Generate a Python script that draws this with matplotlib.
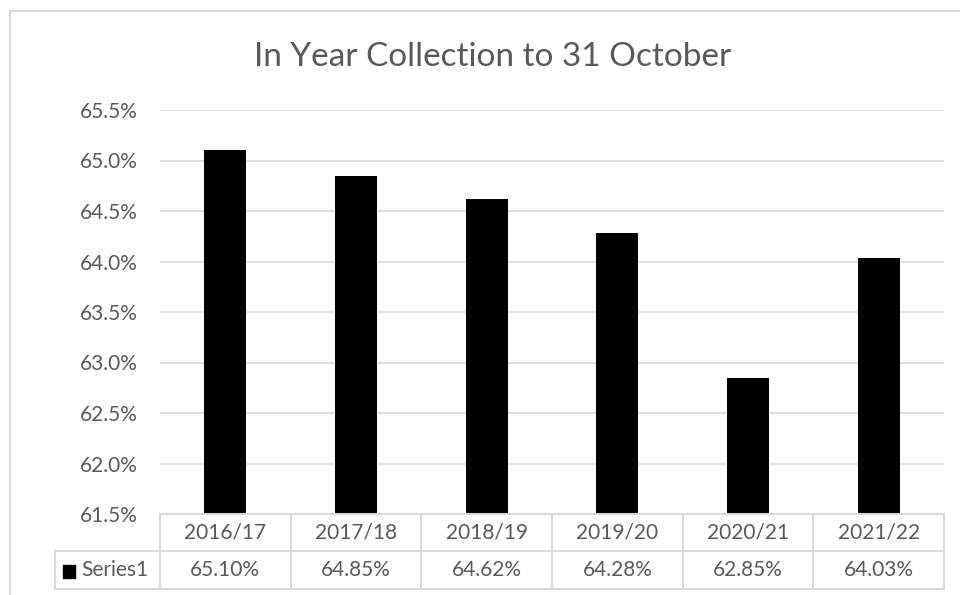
import matplotlib.pyplot as plt
from matplotlib.lines import Line2D
from matplotlib.patches import Rectangle

years = ['2016/17', '2017/18', '2018/19', '2019/20', '2020/21', '2021/22']
collection = [65.10, 64.85, 64.62, 64.28, 62.85, 64.03]
series_name = 'Series1'
y_ticks = [61.5, 62.0, 62.5, 63.0, 63.5, 64.0, 64.5, 65.0, 65.5]

W, H = 960, 595
grey_line = '#d9d9d9'
grey_text = '#595959'
plt.rcParams['font.family'] = ['Lato', 'DejaVu Sans']

fig = plt.figure(figsize=(W / 100, H / 100), dpi=100)

def fx(px):
    return px / W

def fy(py):
    return 1 - py / H

# plot area in pixel coords
left, right, top, bottom = 160, 944, 110, 514
ax = fig.add_axes([fx(left), fy(bottom), fx(right - left), fy(top) - fy(bottom)])
x = list(range(len(years)))
ax.bar(x, collection, width=0.32, color='black', zorder=3)
ax.set_xlim(-0.5, len(years) - 0.5)
ax.set_ylim(y_ticks[0], y_ticks[-1])
ax.set_yticks(y_ticks)
ax.set_yticklabels([f'{v:.1f}%' for v in y_ticks], color=grey_text, fontsize=15)
ax.tick_params(axis='y', length=0, pad=16)
ax.set_xticks([])
ax.grid(axis='y', color=grey_line, linewidth=1.2, zorder=0)
for s in ax.spines.values():
    s.set_visible(False)

fig.text(fx(493), fy(57), 'In Year Collection to 31 October', ha='center', va='center',
         fontsize=24, color=grey_text)

# outer chart border (top and left visible)
fig.add_artist(Line2D([fx(10), fx(960)], [fy(11), fy(11)], color=grey_line, lw=1.5))
fig.add_artist(Line2D([fx(10), fx(10)], [fy(11), fy(595)], color=grey_line, lw=1.5))

# data table
row1, row2, row3 = 514, 551, 589
tleft = 55
cw = (right - left) / len(years)

def hline(x0, x1, y):
    fig.add_artist(Line2D([fx(x0), fx(x1)], [fy(y), fy(y)], color=grey_line, lw=1.5))

def vline(xp, y0, y1):
    fig.add_artist(Line2D([fx(xp), fx(xp)], [fy(y0), fy(y1)], color=grey_line, lw=1.5))

hline(left, right, row1)
hline(tleft, right, row2)
hline(tleft, right, row3)
vline(tleft, row2, row3)
for i in range(len(years) + 1):
    vline(left + i * cw, row1, row3)

for i, (yr, v) in enumerate(zip(years, collection)):
    cx = left + (i + 0.5) * cw
    fig.text(fx(cx), fy((row1 + row2) / 2), yr, ha='center', va='center', fontsize=15, color=grey_text)
    fig.text(fx(cx), fy((row2 + row3) / 2), f'{v:.2f}%', ha='center', va='center', fontsize=15, color=grey_text)

fig.add_artist(Rectangle((fx(63), fy(578)), fx(12), fy(565) - fy(578), color='black'))
fig.text(fx(81), fy((row2 + row3) / 2), series_name, ha='left', va='center', fontsize=15, color=grey_text)

fig.savefig('out.png', dpi=100)
